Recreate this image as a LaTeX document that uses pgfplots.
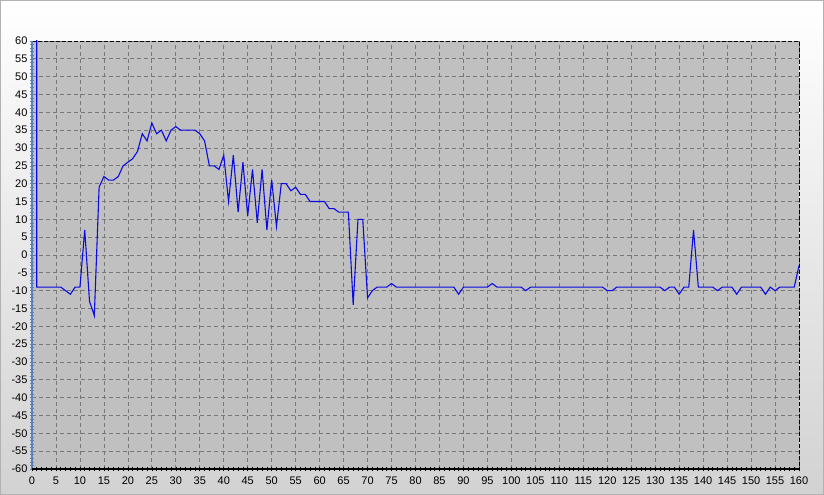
\documentclass[border=0pt]{standalone}
\usepackage{fontspec}
\setmainfont{Liberation Sans}
\usepackage{pgfplots}
\pgfplotsset{compat=1.18}

\definecolor{plotgray}{RGB}{192,192,192}
\definecolor{gridgray}{RGB}{120,120,120}
\definecolor{axisblue}{RGB}{90,130,190}
\definecolor{trace}{RGB}{10,10,225}
\definecolor{bgbottom}{RGB}{210,210,210}

\begin{document}
\begin{tikzpicture}
% window background
\shade[top color=white, bottom color=bgbottom] (0,0) rectangle (824bp,495bp);
\draw[gray!60, line width=1bp] (0.5bp,0.5bp) rectangle (823.5bp,494.5bp);
\useasboundingbox (0,0) rectangle (824bp,495bp);

\begin{axis}[
    at={(32bp,26bp)}, anchor=south west,
    scale only axis,
    width=767bp, height=428bp,
    xmin=0, xmax=160, ymin=-60, ymax=60,
    xtick distance=5, ytick distance=5,
    minor x tick num=4, minor y tick num=4,
    tick pos=left, tick align=center,
    major tick length=4bp, minor tick length=3bp,
    x tick style={black, line width=0.6bp},
    y tick style={axisblue, line width=0.6bp},
    grid=major,
    major grid style={gridgray, line width=0.7bp, dash pattern=on 4bp off 3bp},
    axis line style={draw=none},
    axis background/.style={fill=plotgray},
    clip mode=individual,
    tick label style={font=\fontsize{11bp}{13bp}\selectfont},
    xticklabel style={yshift=-2bp},
    yticklabel style={xshift=1bp},
    /pgf/number format/assume math mode=true,
    scaled ticks=false,
]
\addplot[trace, line width=1.1bp] coordinates {
    (1,62) (1,-9) (2,-9) (3,-9) (4,-9) (5,-9) (6,-9) (7,-10) (8,-11) (9,-9) (10,-9)
    (11,7) (12,-13) (13,-17) (14,19) (15,22) (16,21) (17,21) (18,22) (19,25) (20,26)
    (21,27) (22,29) (23,34) (24,32) (25,37) (26,34) (27,35) (28,32) (29,35) (30,36)
    (31,35) (32,35) (33,35) (34,35) (35,34) (36,32) (37,25) (38,25) (39,24) (40,28)
    (41,15) (42,28) (43,12) (44,26) (45,11) (46,24) (47,9) (48,24) (49,7) (50,21)
    (51,8) (52,20) (53,20) (54,18) (55,19) (56,17) (57,17) (58,15) (59,15) (60,15)
    (61,15) (62,13) (63,13) (64,12) (65,12) (66,12) (67,-14) (68,10) (69,10) (70,-12)
    (71,-10) (72,-9) (73,-9) (74,-9) (75,-8) (76,-9) (77,-9) (78,-9) (79,-9) (80,-9)
    (81,-9) (82,-9) (83,-9) (84,-9) (85,-9) (86,-9) (87,-9) (88,-9) (89,-11) (90,-9)
    (91,-9) (92,-9) (93,-9) (94,-9) (95,-9) (96,-8) (97,-9) (98,-9) (99,-9) (100,-9)
    (101,-9) (102,-9) (103,-10) (104,-9) (105,-9) (106,-9) (107,-9) (108,-9) (109,-9) (110,-9)
    (111,-9) (112,-9) (113,-9) (114,-9) (115,-9) (116,-9) (117,-9) (118,-9) (119,-9) (120,-10)
    (121,-10) (122,-9) (123,-9) (124,-9) (125,-9) (126,-9) (127,-9) (128,-9) (129,-9) (130,-9)
    (131,-9) (132,-10) (133,-9) (134,-9) (135,-11) (136,-9) (137,-9) (138,7) (139,-9) (140,-9)
    (141,-9) (142,-9) (143,-10) (144,-9) (145,-9) (146,-9) (147,-11) (148,-9) (149,-9) (150,-9)
    (151,-9) (152,-9) (153,-11) (154,-9) (155,-10) (156,-9) (157,-9) (158,-9) (159,-9) (160,-3)
};
% frame: dashed top/right, blue left, heavy bottom
\draw[black, line width=0.9bp, dash pattern=on 4bp off 2bp]
    (rel axis cs:0,1) -- (rel axis cs:1,1) -- (rel axis cs:1,0);
\draw[axisblue, line width=1.2bp] (rel axis cs:0,0) -- (rel axis cs:0,1);
\draw[black, line width=2.2bp] (rel axis cs:0,0) -- (rel axis cs:1,0);
\end{axis}
\end{tikzpicture}
\end{document}
